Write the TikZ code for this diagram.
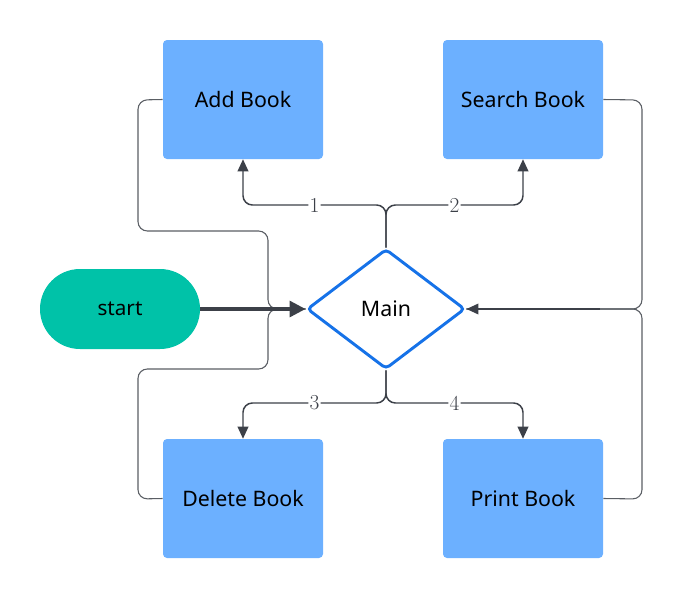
\documentclass[tikz,border=0pt]{standalone}
\usepackage{fontspec}
\newfontfamily\sansf{Noto Sans}
\usetikzlibrary{shapes.geometric,arrows.meta}
\definecolor{boxblue}{RGB}{108,176,255}
\definecolor{startgreen}{RGB}{0,194,168}
\definecolor{mainblue}{RGB}{22,114,232}
\definecolor{linegray}{RGB}{60,64,72}
\definecolor{loopgray}{RGB}{90,94,100}
\tikzset{
  x=0.75pt, y=-0.75pt,
  bookbox/.style={rectangle, rounded corners=3pt, fill=boxblue, minimum width=120pt, minimum height=89.25pt, inner sep=0pt, font=\sansf\fontsize{16}{18}\selectfont},
  startnode/.style={rectangle, rounded corners=30pt, fill=startgreen, minimum width=120pt, minimum height=60pt, inner sep=0pt, font=\sansf\fontsize{15.5}{18}\selectfont},
  mainnode/.style={diamond, draw=mainblue, line width=2.2pt, rounded corners=3pt, minimum width=118.5pt, minimum height=90pt, inner sep=0pt, font=\sansf\fontsize{16}{18}\selectfont},
  flow/.style={draw=linegray, line width=1.1pt, rounded corners=7pt, -{Triangle[length=9pt,width=8pt]}},
  loopline/.style={draw=loopgray, line width=0.8pt, rounded corners=7pt},
  numlabel/.style={fill=white, inner sep=1pt, font=\fontsize{16}{18}\selectfont, text=linegray},
}
\begin{document}
\begin{tikzpicture}
\useasboundingbox (0,0) rectangle (683,600);
\node[bookbox] (add) at (243,99.5) {Add Book};
\node[bookbox] (search) at (523,99.5) {Search Book};
\node[bookbox] (del) at (243,498.5) {Delete Book};
\node[bookbox] (print) at (523,498.5) {Print Book};
\node[startnode] (start) at (120,309) {start};
\node[mainnode] (main) at (386,309) {Main};
% loops
\draw[loopline] (add.west) -- (138,100) -- (138,231) -- (268,231) -- (268,309) -- (main.west);
\draw[loopline] (del.west) -- (138,499) -- (138,369) -- (268,369) -- (268,309) -- (main.west);
\draw[loopline] (search.east) -- (642,100) -- (642,309) -- (main.east);
\draw[loopline] (print.east) -- (642,499) -- (642,309) -- (main.east);
\draw[draw=linegray, line width=1.1pt, -{Triangle[length=9pt,width=8pt]}] (600,309) -- (main.east);
% start arrow
\draw[draw=linegray, line width=2.4pt, -{Triangle[length=12pt,width=12pt]}] (start.east) -- (main.west);
% branches
\draw[flow] (main.north) -- (386,205) -| node[numlabel, pos=0.25] {1} (add.south);
\draw[flow] (main.north) -- (386,205) -| node[numlabel, pos=0.25] {2} (search.south);
\draw[flow] (main.south) -- (386,403) -| node[numlabel, pos=0.25] {3} (del.north);
\draw[flow] (main.south) -- (386,403) -| node[numlabel, pos=0.25] {4} (print.north);
\end{tikzpicture}
\end{document}
